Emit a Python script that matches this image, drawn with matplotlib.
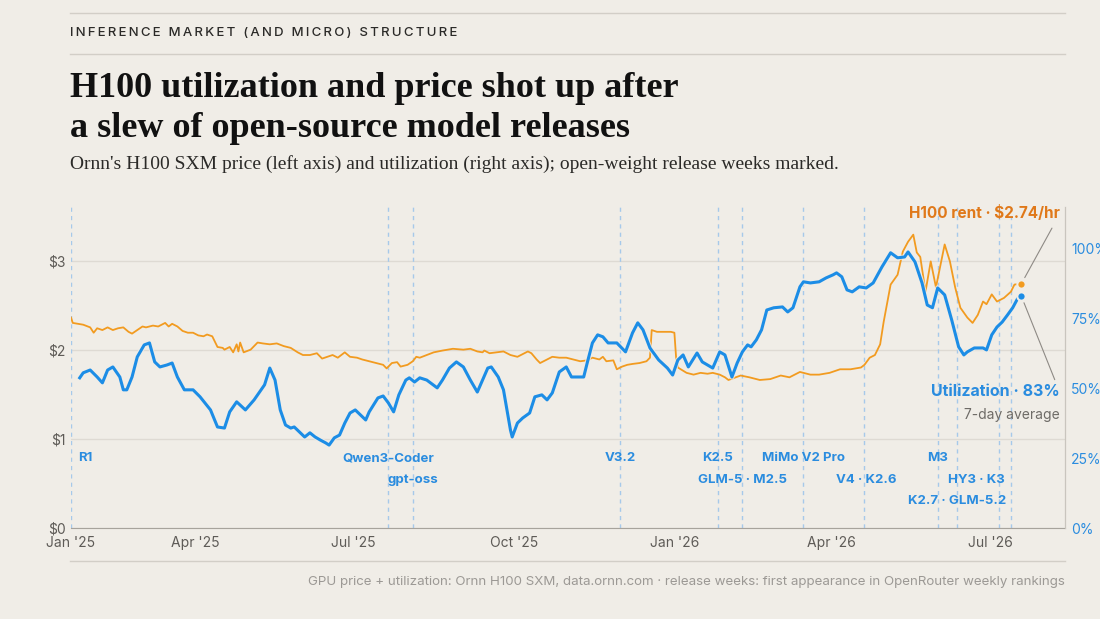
import numpy as np
import matplotlib
matplotlib.use("Agg")
import matplotlib.pyplot as plt
import matplotlib.dates as mdates
import matplotlib.transforms as mtransforms
import matplotlib.patheffects as pe
from matplotlib.lines import Line2D

plt.rcParams['font.family'] = ['Inter', 'DejaVu Sans']

# data: days since 20 Jan 2025 (first week shown)
start = np.datetime64("2025-01-20")

price_day = [0, 1, 7, 11, 13, 15, 18, 21, 24, 27, 30, 33, 35, 38, 41, 43, 47, 50, 54, 56, 58,
             61, 64, 67, 70, 73, 76, 78, 81, 84, 87, 88, 91, 93, 95, 96, 97, 99, 103, 107, 110,
             114, 118, 122, 126, 130, 133, 137, 141, 144, 147, 150, 153, 157, 160, 164, 167,
             171, 175, 179, 181, 184, 187, 189, 193, 196, 198, 200, 204, 208, 213, 219, 225,
             229, 233, 236, 237, 240, 244, 248, 252, 256, 262, 264, 267, 269, 273, 276, 280,
             284, 288, 292, 296, 299, 303, 305, 307, 311, 313, 316, 319, 322, 326, 330, 332,
             333, 336, 340, 344, 346, 347, 348, 353, 357, 361, 365, 368, 372, 375, 377,
             384, 389, 395, 401, 407, 412, 418, 424, 429, 435, 441, 447, 453, 455, 458, 461,
             464, 466, 470, 474, 477, 480, 483, 485, 487, 490, 493, 496, 501, 504, 507, 510,
             514, 517, 520, 523, 525, 528, 531, 535, 539, 541, 545]
price_usd = [2.36, 2.30, 2.28, 2.25, 2.19, 2.24, 2.22, 2.25, 2.22, 2.24, 2.25, 2.20, 2.18, 2.22,
             2.26, 2.25, 2.27, 2.26, 2.30, 2.26, 2.29, 2.26, 2.21, 2.19, 2.19, 2.16, 2.15, 2.17,
             2.15, 2.03, 2.02, 2.00, 2.03, 1.97, 2.06, 1.98, 2.08, 1.97, 2.00, 2.08, 2.07, 2.06,
             2.07, 2.04, 2.02, 1.97, 1.94, 1.94, 1.96, 1.90, 1.92, 1.94, 1.91, 1.97, 1.92, 1.91,
             1.89, 1.87, 1.85, 1.83, 1.79, 1.85, 1.86, 1.81, 1.83, 1.87, 1.92, 1.91, 1.94, 1.97,
             1.99, 2.01, 2.00, 2.01, 1.98, 1.97, 1.99, 1.96, 1.97, 1.98, 1.94, 1.92, 1.98, 1.96,
             1.89, 1.85, 1.89, 1.92, 1.91, 1.91, 1.89, 1.87, 1.88, 1.91, 1.89, 1.92, 1.87, 1.88,
             1.78, 1.81, 1.83, 1.84, 1.85, 1.87, 1.91, 2.22, 2.20, 2.20, 2.20, 2.19, 1.91, 1.80,
             1.74, 1.72, 1.74, 1.73, 1.74, 1.72, 1.69, 1.66,
             1.71, 1.69, 1.66, 1.67, 1.71, 1.69, 1.75, 1.72, 1.72, 1.74, 1.78, 1.78, 1.80, 1.83,
             1.91, 1.94, 2.06, 2.31, 2.73, 2.84, 3.10, 3.21, 3.29, 3.09, 3.04, 2.65, 2.99, 2.70,
             3.18, 2.99, 2.70, 2.47, 2.36, 2.30, 2.39, 2.54, 2.51, 2.62, 2.54, 2.58, 2.65, 2.73,
             2.74]

util_day = [5, 7, 11, 15, 18, 21, 24, 28, 30, 32, 35, 38, 42, 45, 48, 51, 55, 58, 61, 65, 70,
            74, 80, 84, 88, 91, 95, 100, 105, 111, 114, 117, 120, 123, 126, 128, 131, 134, 137,
            140, 143, 146, 148, 151, 154, 157, 160, 163, 166, 169, 171, 176, 179, 182, 185, 188,
            192, 194, 197, 200, 204, 210, 213, 217, 221, 225, 229, 233, 239, 241, 245, 248, 252,
            253, 256, 259, 263, 266, 270, 273, 276, 280, 284, 287, 294, 296, 299, 302, 305, 308,
            313, 318, 322, 325, 328, 332, 337, 342, 345, 348, 351, 354, 359, 362, 368, 372, 375,
            379, 382, 385, 388, 390, 393, 396, 399, 403, 408, 411, 414, 418, 420, 424, 429, 433,
            437, 439, 442, 445, 448, 452, 456, 460, 465, 470, 474, 478, 480, 484, 488, 491, 494,
            497, 501, 505, 509, 512, 514, 518, 523, 525, 528, 531, 534, 537, 540, 543, 545]
util_pct = [53.8, 55.6, 56.6, 54.1, 52.0, 56.6, 57.7, 54.1, 49.5, 49.5, 54.1, 61.3, 65.6, 66.3,
            59.5, 57.7, 58.4, 59.1, 54.1, 49.5, 49.5, 47.0, 42.3, 36.2, 35.8, 41.6, 45.2, 42.3,
            45.9, 51.3, 57.3, 53.0, 42.3, 36.9, 35.8, 36.2, 34.4, 32.6, 34.1, 32.6, 31.5, 30.5,
            29.7, 32.3, 33.3, 37.6, 41.2, 42.3, 40.5, 38.7, 41.6, 46.6, 47.3, 44.8, 41.6, 47.7,
            53.0, 53.8, 52.3, 53.8, 53.0, 50.2, 53.0, 57.3, 59.5, 57.7, 53.0, 48.7, 57.3, 57.7,
            54.1, 49.5, 35.1, 32.6, 37.6, 39.4, 41.2, 47.0, 47.7, 45.9, 48.4, 55.9, 57.7, 54.1,
            54.1, 59.1, 66.3, 69.2, 68.5, 66.3, 66.3, 63.1, 69.9, 73.5, 71.0, 64.5, 60.2, 57.3,
            54.8, 60.2, 62.0, 57.7, 62.7, 59.5, 57.3, 63.1, 62.0, 54.1, 59.1, 63.1, 65.6, 64.9,
            67.4, 71.0, 78.1, 78.9, 79.2, 77.4, 78.9, 86.4, 88.2, 87.8, 88.2, 89.6, 90.7, 91.4,
            90.0, 85.3, 84.6, 86.4, 86.0, 87.8, 93.5, 98.6, 96.8, 97.1, 98.9, 95.3, 87.8, 79.9,
            78.9, 86.0, 83.5, 74.6, 64.9, 62.0, 63.1, 64.5, 64.5, 63.8, 69.2, 72.0, 73.8, 76.3,
            78.9, 82.4, 83.0]

release_dates = ["2025-01-20", "2025-07-21", "2025-08-04", "2025-12-01", "2026-01-26",
                 "2026-02-09", "2026-03-16", "2026-04-20", "2026-06-01", "2026-06-12",
                 "2026-07-06", "2026-07-13"]
label_texts = ["R1", "Qwen3-Coder", "gpt-oss", "V3.2", "K2.5", "GLM-5 · M2.5", "MiMo V2 Pro",
               "V4 · K2.6", "M3", "K2.7 · GLM-5.2", "HY3 · K3"]
label_dates = ["2025-01-20", "2025-07-21", "2025-08-04", "2025-12-01", "2026-01-26",
               "2026-02-09", "2026-03-16", "2026-04-21", "2026-06-01", "2026-06-12",
               "2026-06-23"]

tick_dates = ["2025-01-20", "2025-04-01", "2025-07-01", "2025-10-01", "2026-01-01",
              "2026-04-01", "2026-07-01"]
tick_labels = ["Jan '25", "Apr '25", "Jul '25", "Oct '25", "Jan '26", "Apr '26", "Jul '26"]

last_price = price_usd[-1]
last_util = util_pct[-1]

# style
BG = "#F0EDE7"
ORANGE = "#F29B20"
ORANGE_TXT = "#E0791A"
BLUE = "#1C8DE6"
BLUE_TXT = "#2A8CDF"
GRID = "#DEDAD3"
RULE = "#D2CEC7"
W, H = 1100, 619


def fx(px):
    return px / W


def fy(px):
    return 1 - px / H


def to_num(days):
    return mdates.date2num(start + np.array(days).astype("timedelta64[D]"))


fig = plt.figure(figsize=(11, 6.19), dpi=100, facecolor=BG)
ax = fig.add_axes([fx(71), fy(528), fx(1065) - fx(71), fy(207) - fy(528)])
ax.set_facecolor(BG)

# release weeks
rel_x = mdates.date2num(np.array(release_dates, dtype="datetime64[D]"))
for xv in rel_x:
    ax.axvline(xv, color="#A6C9EA", lw=1, ls=(0, (3, 3)), zorder=1)

# price line
ax.plot(to_num(price_day), price_usd, color=ORANGE, lw=1.3, zorder=3)
ax.scatter(to_num([545]), [last_price], s=36, color=ORANGE, edgecolor=BG, lw=1.5, zorder=5)
ax.set_ylim(0, 3.6)
ax.set_yticks([0, 1, 2, 3])
ax.set_yticklabels(["$0", "$1", "$2", "$3"])
ax.grid(axis="y", color=GRID, lw=1)
ax.set_axisbelow(True)

x0 = mdates.date2num(start)
ax.set_xlim(x0, x0 + 570)
ax.set_xticks(mdates.date2num(np.array(tick_dates, dtype="datetime64[D]")))
ax.set_xticklabels(tick_labels)
ax.tick_params(axis="both", length=0, labelsize=10, colors="#5E5B57")
ax.tick_params(axis="x", pad=6)
ax.tick_params(axis="y", pad=4)

for s in ["top", "left"]:
    ax.spines[s].set_visible(False)
ax.spines["bottom"].set_color("#A7A39C")
ax.spines["right"].set_color("#C9C5BE")

# utilization line
ax2 = ax.twinx()
ax2.plot(to_num(util_day), util_pct, color=BLUE, lw=2.2, zorder=4,
         path_effects=[pe.Stroke(linewidth=3.8, foreground=BG, alpha=0.8), pe.Normal()])
ax2.scatter(to_num([545]), [last_util], s=36, color=BLUE, edgecolor=BG, lw=1.5, zorder=5)
ax2.set_ylim(0, 115)
ax2.set_yticks([0, 25, 50, 75, 100])
ax2.set_yticklabels(["0%", "25%", "50%", "75%", "100%"])
ax2.tick_params(axis="y", length=0, labelsize=10, colors=BLUE_TXT, pad=4.5)
for s in ["top", "left", "bottom"]:
    ax2.spines[s].set_visible(False)
ax2.spines["right"].set_color("#C9C5BE")

# release labels
trans = mtransforms.blended_transform_factory(ax.transData, ax.transAxes)
label_x = mdates.date2num(np.array(label_dates, dtype="datetime64[D]"))
label_rows = [0, 0, 1, 0, 0, 1, 0, 1, 0, 2, 1]
row_y = [0.218, 0.150, 0.084]
for txt, xv, r in zip(label_texts, label_x, label_rows):
    if txt == "R1":
        ax.text(xv + 4, row_y[r], txt, transform=trans, ha="left", va="center",
                fontsize=9.5, fontweight="bold", color=BLUE_TXT, zorder=6)
    else:
        ax.text(xv, row_y[r], txt, transform=trans, ha="center", va="center",
                fontsize=9.5, fontweight="bold", color=BLUE_TXT, zorder=6)

# end annotations
ax.annotate("", xy=(to_num([545])[0], last_price), xytext=(22, 40), textcoords="offset points",
            arrowprops=dict(arrowstyle="-", color="#8E8A85", lw=0.8, shrinkA=0, shrinkB=5))
ax2.annotate("", xy=(to_num([545])[0], last_util), xytext=(24, -60), textcoords="offset points",
             arrowprops=dict(arrowstyle="-", color="#8E8A85", lw=0.8, shrinkA=0, shrinkB=5))
fig.text(fx(1060), fy(213), f"H100 rent · ${last_price:.2f}/hr", ha="right", va="center",
         fontsize=11, fontweight="bold", color=ORANGE_TXT)
fig.text(fx(1060), fy(391), f"Utilization · {last_util:.0f}%", ha="right", va="center",
         fontsize=11.5, fontweight="bold", color=BLUE_TXT)
fig.text(fx(1060), fy(415), "7-day average", ha="right", va="center",
         fontsize=10, color="#6E6B67")

# header
for yy in [13, 54, 561]:
    fig.add_artist(Line2D([fx(70), fx(1065)], [fy(yy), fy(yy)], transform=fig.transFigure,
                          color=RULE, lw=1))
kicker = "INFERENCE MARKET (AND MICRO) STRUCTURE"
fig.text(fx(70), fy(33), "\u200a\u200a".join(kicker), ha="left", va="center",
         fontsize=9.5, color="#2B2A28", fontweight="medium")
fig.text(fx(70), fy(97), "H100 utilization and price shot up after", ha="left", va="baseline",
         fontsize=26, fontweight="bold", family="Liberation Serif", color="#111111")
fig.text(fx(70), fy(137), "a slew of open-source model releases", ha="left", va="baseline",
         fontsize=26, fontweight="bold", family="Liberation Serif", color="#111111")
fig.text(fx(70), fy(169), "Ornn's H100 SXM price (left axis) and utilization (right axis); "
         "open-weight release weeks marked.", ha="left", va="baseline",
         fontsize=14, family="Liberation Serif", color="#2B2A28")

fig.text(fx(1065), fy(582), "GPU price + utilization: Ornn H100 SXM, data.ornn.com · release weeks: "
         "first appearance in OpenRouter weekly rankings", ha="right", va="center",
         fontsize=9.6, color="#9C9995")

fig.savefig("out.png", dpi=100, facecolor=BG)
